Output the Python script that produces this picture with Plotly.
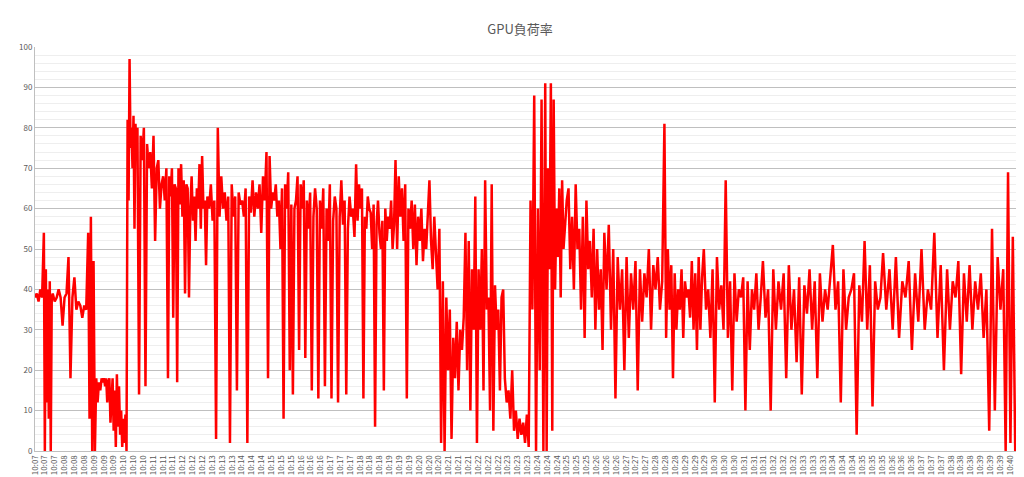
import plotly.graph_objects as go

# GPU load (%), grouped in segments; each segment starts at a tick position
seg_starts = [0, 0.9, 1.8, 5.4, 6.9, 9.4, 10.4, 13.5, 17.5, 23.5, 27.6, 32.6, 36.6, 40.7,
              43.7, 47.7, 51.8, 53.8, 57.8, 63.9, 67.9, 73.9, 81.0, 86.1, 92.6, 98.3, 100]
seg_values = [
    [38, 39, 37, 40, 38],
    [54, 0, 45, 12, 40, 8, 42, 0, 38],
    [39, 37, 38, 40, 38, 31, 38, 39, 48, 18, 38, 43, 35, 37, 36, 33, 36, 35],
    [54, 8, 58, 0, 47, 0, 18, 12, 17, 15, 18],
    [17, 18, 16, 18, 12, 17, 18, 7, 15, 18, 5, 15, 1, 19, 6, 16, 4, 10, 1, 8, 2, 9, 0],
    [82, 62, 97, 75, 80, 70, 83, 55, 81, 75],
    [80, 14, 78, 72, 80, 16, 76, 70, 74, 65, 78, 52, 70, 72, 60, 66, 68, 62, 70],
    [18, 68, 63, 70, 33, 66, 65, 17, 70, 61, 71, 58, 67, 39, 66, 65, 38, 60, 68, 57, 63, 52, 65, 60,
     71, 55, 73, 60, 62, 46],
    [63, 60, 66, 57, 62, 3, 80, 58, 68, 60, 64, 57, 63, 2, 66, 58, 63, 15, 64, 61, 62, 58, 65, 2,
     63, 59, 67, 58, 64, 60, 66, 54, 68, 62],
    [74, 18, 73, 60, 64, 62, 66, 58, 62, 50, 65, 8, 66, 60, 69, 20, 61, 14, 60, 62, 68, 25, 66, 60,
     67, 23],
    [62, 55, 64, 15, 58, 65, 60, 13, 62, 55, 65, 16, 60, 52, 66, 13, 57, 63, 60, 12, 58, 67, 56, 62,
     14, 55, 63, 58, 60, 53],
    [71, 57, 66, 60, 65, 13, 58, 55, 63, 60, 59, 50, 61, 6, 56, 62, 54, 50, 57, 15, 60, 52, 58, 55,
     62, 50, 56],
    [72, 50, 68, 58, 65, 52, 66, 13, 60, 55, 62, 50, 61, 46, 58, 52, 60, 47, 55, 50, 57, 67, 52, 45,
     58],
    [50, 40, 55, 2, 42, 0, 38, 20, 35, 3, 28, 18, 32, 15, 30, 25, 33],
    [54, 20, 52, 10, 45, 30, 63, 2, 45, 30, 50, 15, 67, 35, 38, 10, 66, 5, 41, 30, 35, 15, 38, 40],
    [18, 12, 15, 8, 20, 5, 10, 3, 8, 4, 7, 2, 9, 1, 62, 35, 88, 0, 60, 20, 87, 0],
    [91, 0, 70, 45, 91, 5, 87, 40, 60, 48, 65, 38, 67, 50],
    [55, 62, 65, 45, 58, 40, 66, 50, 55, 35, 58, 28, 62, 45, 52, 38, 55, 30, 50, 35, 45, 25],
    [54, 40, 56, 30, 50, 13, 48, 35, 45, 20, 48, 28, 44, 35, 47, 15, 45, 32, 44, 38, 50, 30, 46, 40,
     48, 35, 42],
    [81, 28, 50, 35, 46, 18, 44, 30, 40, 35, 45, 28, 42, 38, 40, 33, 47, 30, 44, 25, 48, 30, 43],
    [50, 35, 40, 28, 45, 12, 48, 35, 41, 30, 67, 28, 42, 15, 44, 32, 40, 38, 43, 10, 42, 25, 40, 35,
     44, 30, 38],
    [47, 33, 40, 10, 45, 30, 42, 35, 44, 18, 46, 30, 40, 22, 43, 14, 41, 34, 45, 30, 42, 18, 44, 32,
     40, 35, 43],
    [51, 35, 42, 12, 45, 30, 38, 40, 44, 4, 41, 32, 52, 30, 46, 11, 42, 35, 38],
    [49, 35, 45, 30, 48, 28, 42, 38, 47, 25, 44, 32, 50, 30, 40, 35, 54, 28, 46, 20],
    [45, 30, 42, 38, 47, 19, 44, 32, 46, 30, 42, 35, 44, 28, 40, 5, 55, 10, 48, 35],
    [45, 0, 69, 2, 53, 0, 5],
]

minutes = [f"10:{m:02d}" for m in range(7, 41)]
label_counts = [3] * 33 + [2]
tick_labels = [m for m, c in zip(minutes, label_counts) for _ in range(c)]

xs, ys = [], []
for i, vals in enumerate(seg_values):
    a, b = seg_starts[i], seg_starts[i + 1]
    n = len(vals)
    for j, v in enumerate(vals):
        xs.append(a + (b - a) * j / n)
        ys.append(v)

fig = go.Figure(go.Scatter(x=xs, y=ys, mode="lines",
                           line=dict(color="#ff0000", width=2.5)))

fig.update_layout(
    width=1024, height=477,
    margin=dict(l=27, r=12, t=39, b=34, pad=0),
    paper_bgcolor="white", plot_bgcolor="white",
    title=dict(text="GPU負荷率", x=0.5, y=0.965, xanchor="center",
               font=dict(family="Noto Sans CJK JP", size=13, color="#595959")),
    font=dict(family="Noto Sans CJK JP", color="#595959"),
    showlegend=False,
)
fig.update_xaxes(
    range=[0, 100], tickmode="array", automargin=False,
    tickvals=list(range(len(tick_labels))), ticktext=tick_labels,
    tickangle=-90, tickfont=dict(size=8), showgrid=False, ticklen=0,
    showline=True, linecolor="#bfbfbf", zeroline=False,
)
fig.update_yaxes(
    range=[0, 100], dtick=10, tickfont=dict(size=8), automargin=False, ticklen=0,
    gridcolor="#bfbfbf", gridwidth=1,
    minor=dict(dtick=2, showgrid=True, gridcolor="#eeeeee"),
    showline=True, linecolor="#bfbfbf", zeroline=False,
)

fig.write_html("out.html")
